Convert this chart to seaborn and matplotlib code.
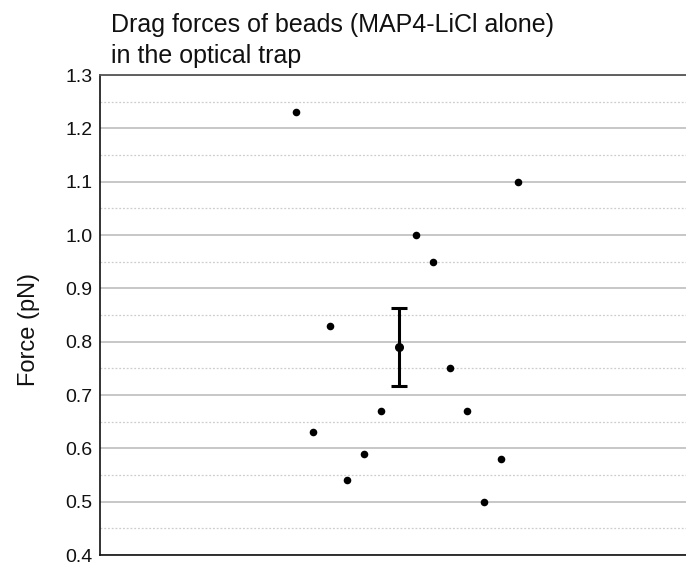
import matplotlib
matplotlib.use("Agg")
import matplotlib.pyplot as plt
import seaborn as sns
import pandas as pd
from matplotlib.ticker import MultipleLocator

# Bead drag forces (pN), in plotting order along the horizontal axis
slots = [1, 2, 3, 4, 5, 6, 8, 9, 10, 11, 12, 13, 14]
forces = [1.23, 0.63, 0.83, 0.54, 0.59, 0.67, 1.00, 0.95, 0.75, 0.67, 0.50, 0.58, 1.10]

# Summary marker: mean with error
mean_slot = [7]
mean_force = [0.79]
mean_err = [0.073]

y_ticks = [0.4, 0.5, 0.6, 0.7, 0.8, 0.9, 1.0, 1.1, 1.2, 1.3]

title_lines = ["Drag forces of beads (MAP4-LiCl alone)", "in the optical trap"]
ylabel = "Force (pN)"

sns.set_theme(style="white")
plt.rcParams["font.family"] = ["Liberation Sans", "DejaVu Sans"]

df = pd.DataFrame({"slot": slots, "force": forces})

fig = plt.figure(figsize=(6.86, 5.66), dpi=100)
W, H = 686, 566
ax = fig.add_axes([100 / W, (H - 555) / H, 586 / W, 480 / H])

# grid: solid at 0.1, dotted at 0.05
ax.yaxis.set_major_locator(MultipleLocator(0.1))
ax.yaxis.set_minor_locator(MultipleLocator(0.05))
ax.grid(which="major", axis="y", color="#bdbdbd", linewidth=1.2, linestyle="-")
ax.grid(which="minor", axis="y", color="#cdcdcd", linewidth=0.9, linestyle=(0, (1.5, 1.5)))
ax.set_axisbelow(True)

sns.scatterplot(data=df, x="slot", y="force", ax=ax, color="black",
                s=30, linewidth=0, zorder=3, legend=False)

ax.errorbar(mean_slot, mean_force, yerr=mean_err, fmt="o", color="black",
            markersize=5.5, elinewidth=2.2, capsize=5.5, capthick=2.2, zorder=4)

ax.set_ylim(0.4, 1.3)
ax.set_xlim(-10.48, 23.83)
ax.set_yticks(y_ticks)
ax.set_yticklabels([f"{v:.1f}" for v in y_ticks])
ax.set_xticks([])
ax.set_xlabel("")
ax.set_ylabel("")

ax.tick_params(axis="y", which="both", length=0, pad=5.5, labelsize=14, colors="#111111")

for side in ["left", "bottom"]:
    ax.spines[side].set_color("#111111")
    ax.spines[side].set_linewidth(1.2)
ax.spines["top"].set_color("#555555")
ax.spines["top"].set_linewidth(1.3)
ax.spines["right"].set_visible(False)

fig.text(111 / W, 1 - 31.7 / H, title_lines[0],
         ha="left", va="baseline", fontsize=18, color="#111111")
fig.text(111 / W, 1 - 62.7 / H, title_lines[1],
         ha="left", va="baseline", fontsize=18, color="#111111")

fig.text(29 / W, 1 - 330 / H, ylabel, rotation=90, ha="center", va="center",
         fontsize=17, color="#111111")

fig.savefig("out.png", dpi=100)
